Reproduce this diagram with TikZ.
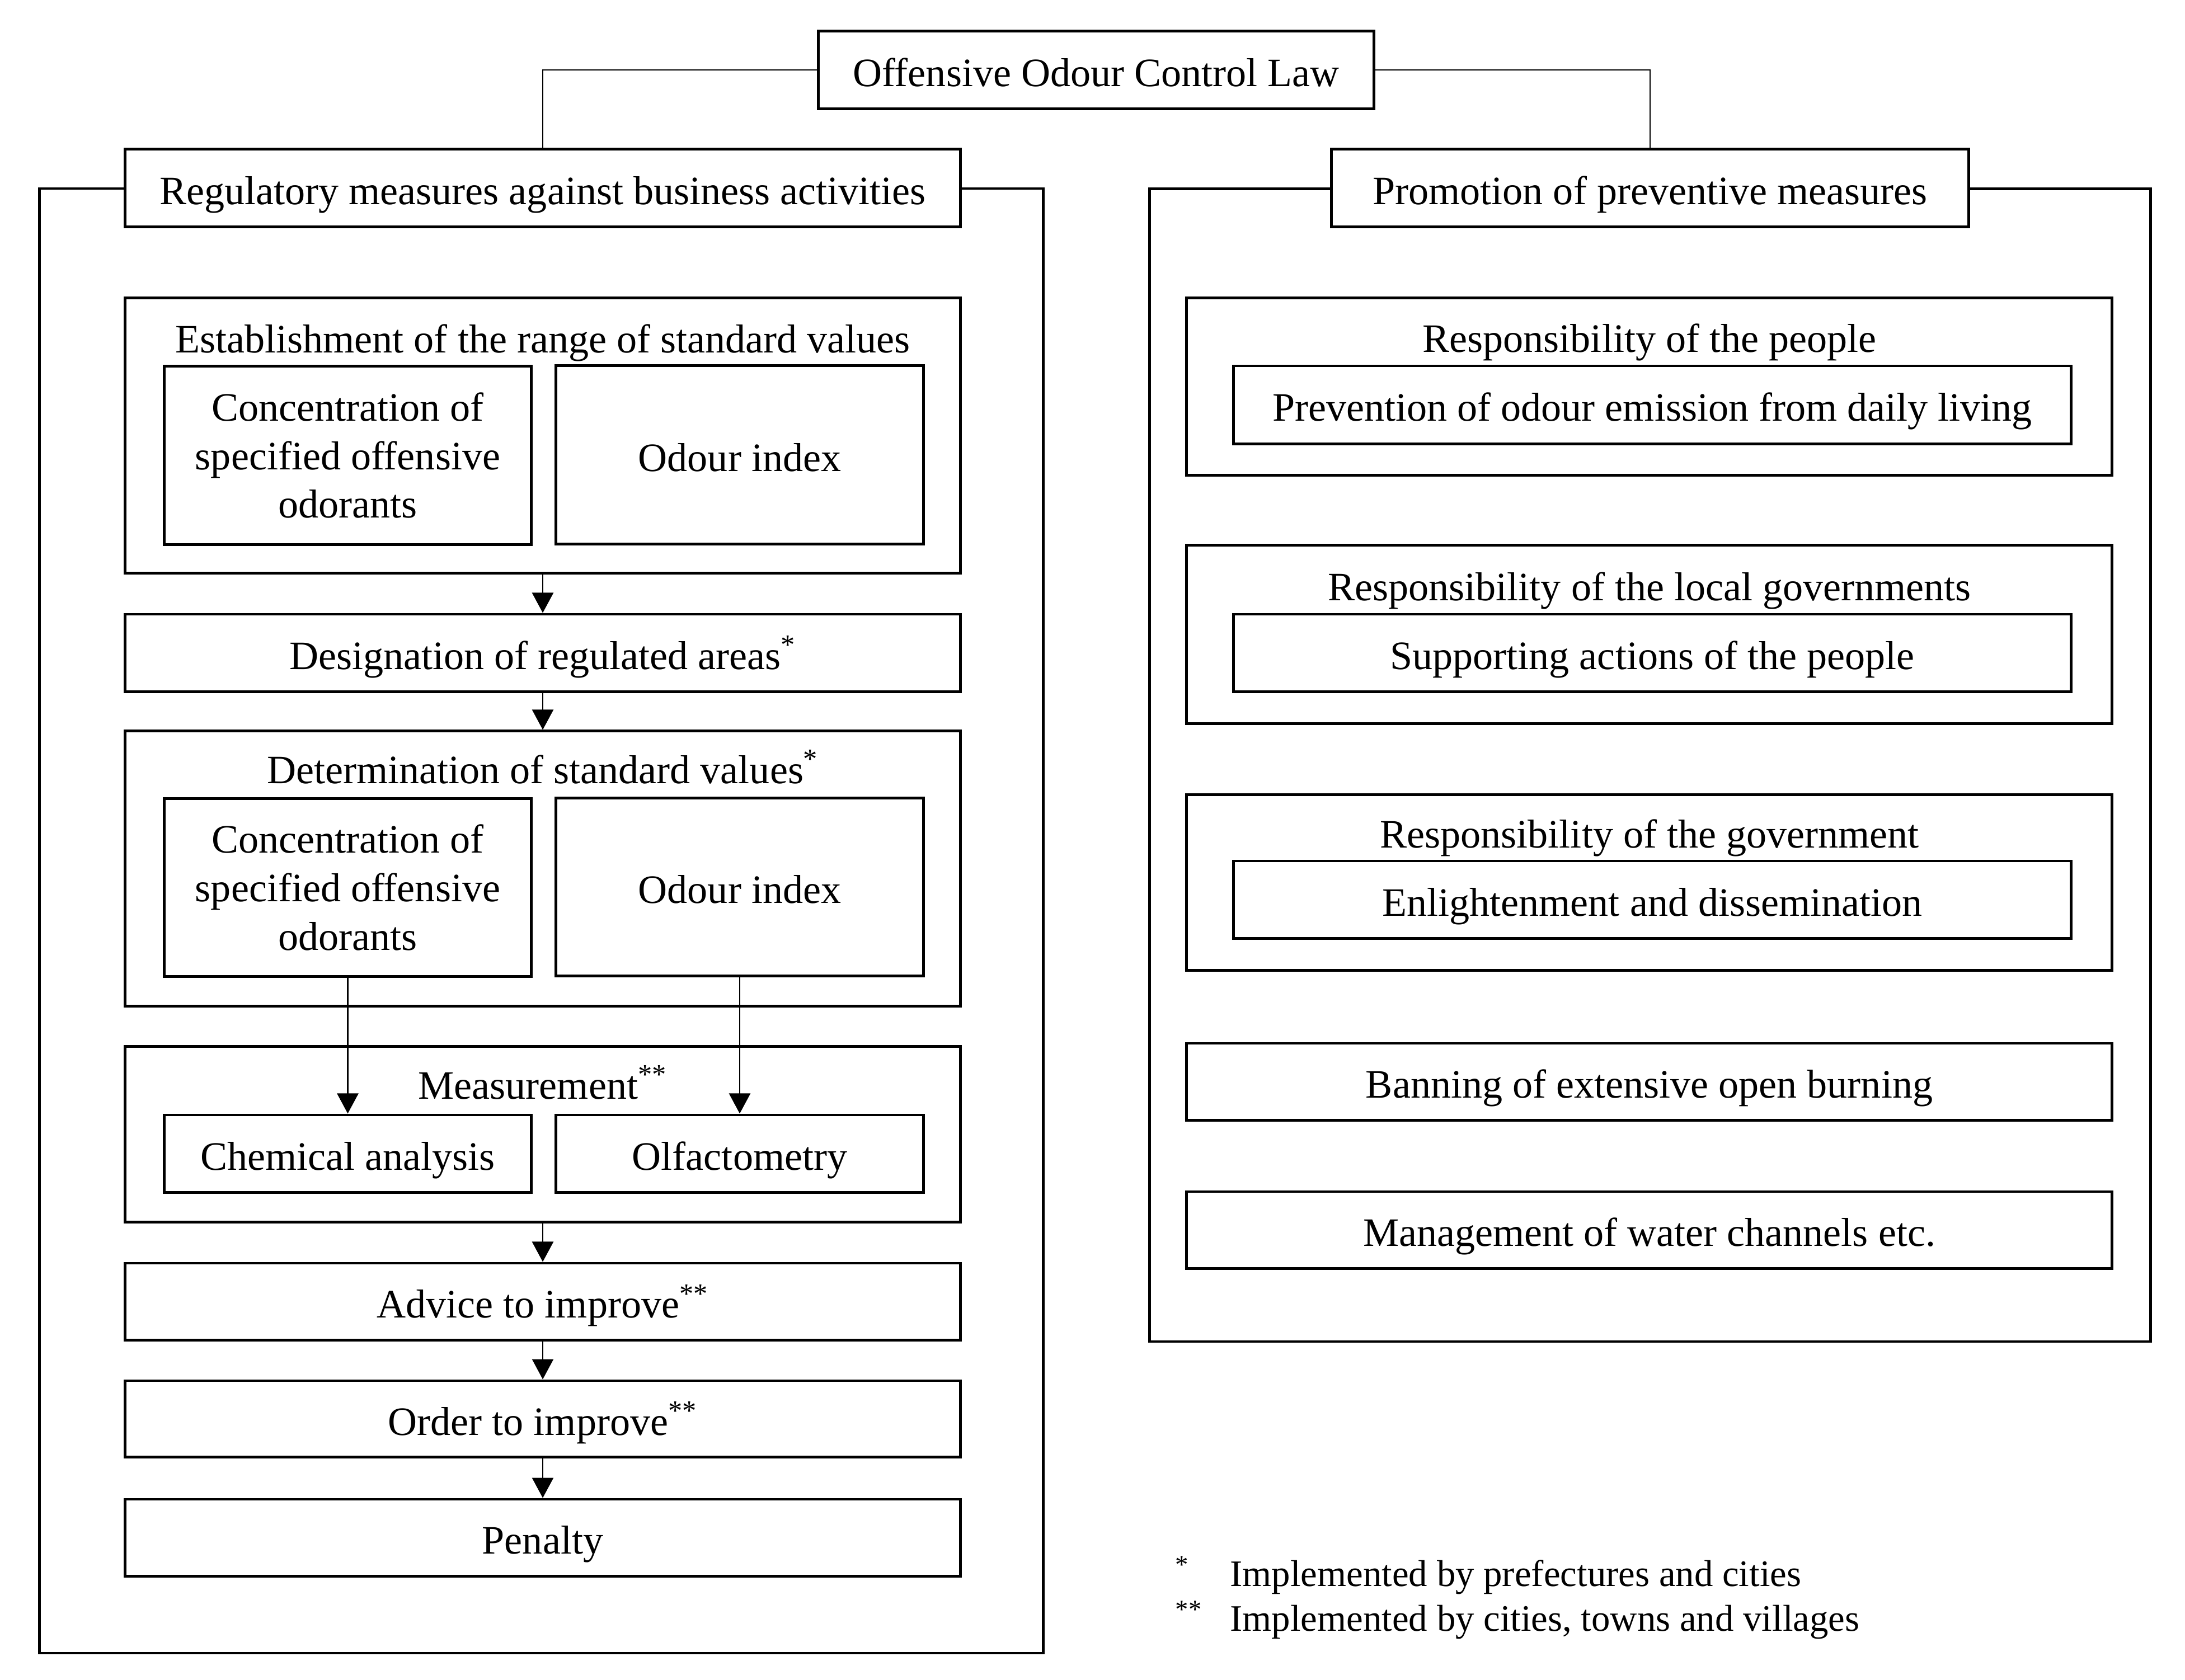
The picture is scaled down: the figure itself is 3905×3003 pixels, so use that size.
\documentclass[tikz,border=0pt]{standalone}
\usepackage{fontspec}
\setmainfont{Liberation Serif}
\usetikzlibrary{arrows.meta}
\newcommand\mainfs{\fontsize{20.5pt}{24.7pt}\selectfont}
\newcommand\footfs{\fontsize{19pt}{23pt}\selectfont}
\begin{document}
\begin{tikzpicture}[x=0.01cm,y=-0.01cm,
  bx/.style={draw=black, line width=1.4pt, fill=white, inner sep=0pt, font=\mainfs},
  one/.style={bx, text height=0.58cm, text depth=0pt},
  ttl/.style={anchor=base, font=\mainfs, inner sep=0pt},
  fn/.style={anchor=base west, font=\footfs, inner sep=0pt},
  frame/.style={draw=black, line width=1.2pt, inner sep=0pt},
  conn/.style={draw=black, line width=0.7pt},
  arr/.style={conn, -{Triangle[width=0.38cm,length=0.36cm]}}]
\useasboundingbox (0,0) rectangle (3905,3003);
\fill[white] (0,0) rectangle (3905,3003);

% frames
\node[frame, minimum width=17.93cm, minimum height=26.16cm] (lframe) at (967.5,1646) {};
\node[frame, minimum width=17.88cm, minimum height=20.59cm] (rframe) at (2949,1367.5) {};

% top level
\node[one, minimum width=9.92cm, minimum height=1.38cm] (law) at (1959,125) {Offensive Odour Control Law};
\node[one, minimum width=14.92cm, minimum height=1.38cm] (reg) at (970,336) {Regulatory measures against business activities};
\node[one, minimum width=11.38cm, minimum height=1.38cm] (prom) at (2949,336) {Promotion of preventive measures};
\draw[conn] (law.west) -| (reg.north);
\draw[conn] (law.east) -| (prom.north);

% left column
\node[bx, minimum width=14.92cm, minimum height=4.91cm] (est) at (970,778.5) {};
\node[ttl] (estt) at (970,630) {Establishment of the range of standard values};
\node[bx, align=center, minimum width=6.55cm, minimum height=3.18cm] (conc1) at (621.5,814) {Concentration of\\specified offensive\\odorants};
\node[one, minimum width=6.56cm, minimum height=3.18cm] (odr1) at (1322,813) {Odour index};

\node[one, minimum width=14.92cm, minimum height=1.38cm] (des) at (970,1167) {Designation of regulated areas\textsuperscript{*}};

\node[bx, minimum width=14.92cm, minimum height=4.91cm] (det) at (970,1552.5) {};
\node[ttl] (dett) at (970,1400) {Determination of standard values\textsuperscript{*}};
\node[bx, align=center, minimum width=6.55cm, minimum height=3.17cm] (conc2) at (621.5,1586.5) {Concentration of\\specified offensive\\odorants};
\node[one, minimum width=6.56cm, minimum height=3.17cm] (odr2) at (1322,1585.5) {Odour index};

\node[bx, minimum width=14.92cm, minimum height=3.13cm] (meas) at (970,2027.5) {};
\node[ttl] (meast) at (970,1964) {Measurement\textsuperscript{**}};
\node[one, minimum width=6.55cm, minimum height=1.38cm] (chem) at (621.5,2062) {Chemical analysis};
\node[one, minimum width=6.56cm, minimum height=1.38cm] (olf) at (1322,2062) {Olfactometry};

\node[one, minimum width=14.92cm, minimum height=1.37cm] (adv) at (970,2326.5) {Advice to improve\textsuperscript{**}};
\node[one, minimum width=14.92cm, minimum height=1.36cm] (ord) at (970,2536) {Order to improve\textsuperscript{**}};
\node[one, minimum width=14.92cm, minimum height=1.37cm] (pen) at (970,2748.5) {Penalty};

\draw[arr] (est.south) -- (des.north);
\draw[arr] (des.south) -- (det.north);
\draw[arr] (conc2.south) -- (chem.north);
\draw[arr] (odr2.south) -- (olf.north);
\draw[arr] (meas.south) -- (adv.north);
\draw[arr] (adv.south) -- (ord.north);
\draw[arr] (ord.south) -- (pen.north);

% right column
\node[bx, minimum width=16.53cm, minimum height=3.16cm] (rp) at (2947.5,691) {};
\node[ttl] (rpt) at (2948,629) {Responsibility of the people};
\node[one, minimum width=14.96cm, minimum height=1.39cm] (prev) at (2953,723.5) {Prevention of odour emission from daily living};

\node[bx, minimum width=16.53cm, minimum height=3.18cm] (rl) at (2947.5,1134) {};
\node[ttl] (rlt) at (2948,1073) {Responsibility of the local governments};
\node[one, minimum width=14.96cm, minimum height=1.38cm] (sup) at (2953,1167) {Supporting actions of the people};

\node[bx, minimum width=16.53cm, minimum height=3.13cm] (rg) at (2947.5,1577.5) {};
\node[ttl] (rgt) at (2948,1515) {Responsibility of the government};
\node[one, minimum width=14.96cm, minimum height=1.38cm] (enl) at (2953,1608) {Enlightenment and dissemination};

\node[one, minimum width=16.53cm, minimum height=1.37cm] (ban) at (2947.5,1933.5) {Banning of extensive open burning};
\node[one, minimum width=16.53cm, minimum height=1.37cm] (man) at (2947.5,2198.5) {Management of water channels etc.};

% footnotes
\node[fn] (s1) at (2100,2835) {\textsuperscript{*}};
\node[fn] (s2) at (2100,2915) {\textsuperscript{**}};
\node[fn] (fn1) at (2198,2835) {Implemented by prefectures and cities};
\node[fn] (fn2) at (2198,2915) {Implemented by cities, towns and villages};
\end{tikzpicture}
\end{document}
